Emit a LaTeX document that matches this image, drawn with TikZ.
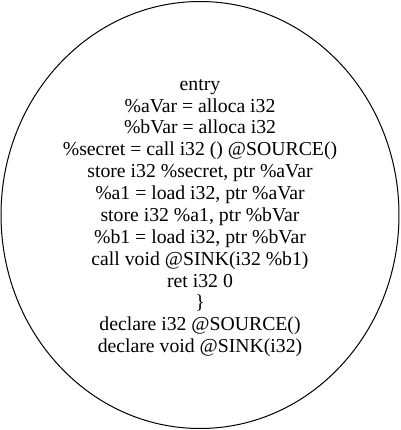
\documentclass[tikz,border=0pt]{standalone}
\usepackage{fontspec}
\setmainfont{Liberation Serif}
\tikzset{every picture/.style={line width=0.75pt}}
\tikzset{
	block text/.style={align=center, inner sep=0pt, font=\fontsize{14.8pt}{16.4pt}\selectfont}}

\begin{document}
\begin{tikzpicture}[x=0.75pt,y=0.75pt,yscale=-1,xscale=1]
	\useasboundingbox (0,0) rectangle (401,430);

	%Shape: Ellipse [id:entry]
	\draw   (200,215) ellipse (199 and 213.5) ;

	% Text Node
	\node [block text] (entry) at (200,218) {entry\\
		\%aVar = alloca i32\\
		\%bVar = alloca i32\\
		\%secret = call i32 () @SOURCE()\\
		store i32 \%secret, ptr \%aVar\\
		\%a1 = load i32, ptr \%aVar\\
		store i32 \%a1, ptr \%bVar\\
		\%b1 = load i32, ptr \%bVar\\
		call void @SINK(i32 \%b1)\\
		ret i32 0\\
		\}\\
		declare i32 @SOURCE()\\
		declare void @SINK(i32)};

\end{tikzpicture}
\end{document}
